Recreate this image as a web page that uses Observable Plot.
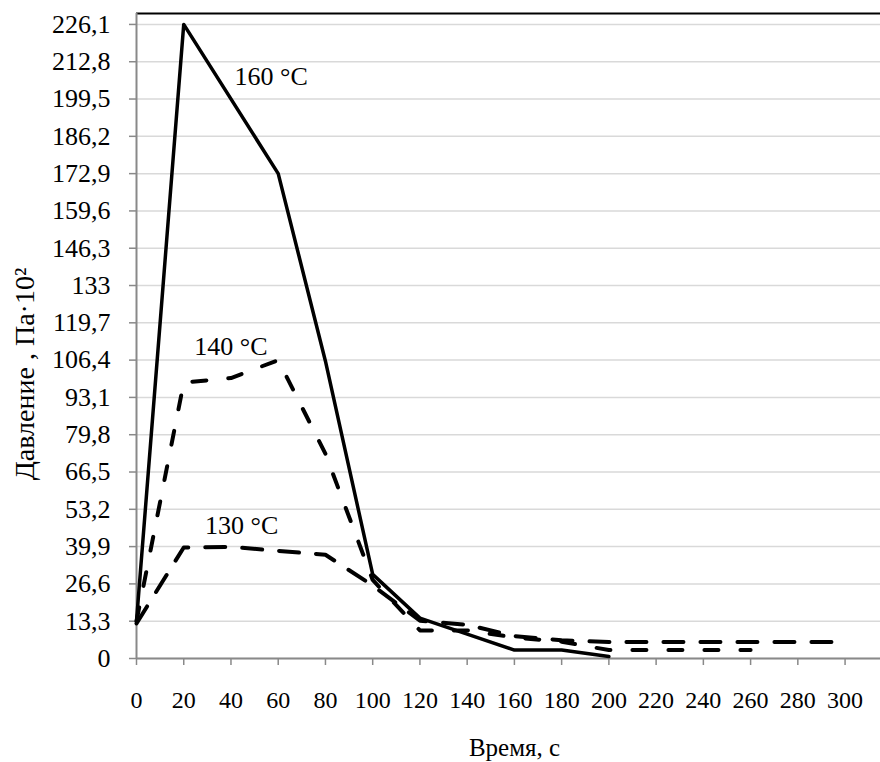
<!DOCTYPE html>
<html><head><meta charset="utf-8">
<script src="https://cdn.jsdelivr.net/npm/d3@7"></script>
<script src="https://cdn.jsdelivr.net/npm/@observablehq/plot@0.6"></script>
<style>body{margin:0;background:#fff}</style>
</head><body><div id="chart"></div>
<script>
const time160 = [0, 20, 60, 80, 100, 120, 140, 160, 180, 200];
const pressure160 = [13.3, 226.1, 172.9, 106, 30, 14.4, 8.7, 3, 3, 0.7];
const time140 = [0, 20, 40, 60, 80, 100, 120, 140, 160, 180, 200, 260];
const pressure140 = [13.3, 98.4, 100, 106.4, 73, 28, 10, 10, 7.5, 6, 3, 3];
const time130 = [0, 20, 40, 60, 80, 100, 120, 140, 160, 180, 200, 300];
const pressure130 = [12.5, 39.6, 39.8, 38.4, 37, 26, 13.5, 12, 8, 6.5, 5.9, 5.9];
const xTicks = [0, 20, 40, 60, 80, 100, 120, 140, 160, 180, 200, 220, 240, 260, 280, 300];
const yTicks = [0, 13.3, 26.6, 39.9, 53.2, 66.5, 79.8, 93.1, 106.4, 119.7, 133, 146.3, 159.6, 172.9, 186.2, 199.5, 212.8, 226.1];
const labelText = ["160 °C", "140 °C", "130 °C"];
const labelTime = [57, 40, 44.5];
const labelPressure = [207.4, 111.1, 47.3];
const xDomain = [0, 315];
const yDomain = [0, 230];
const xTitle = "Время, с";
const yTitle = "Давление , Па·10²";

const rows = (t, p) => t.map((d, i) => ({t: d, p: p[i]}));
const labels = labelText.map((s, i) => ({s, t: labelTime[i], p: labelPressure[i]}));
const fmt = d => String(d).replace(".", ",");
const font = "'Liberation Serif', 'Times New Roman', serif";

const chart = Plot.plot({
  width: 880, height: 762,
  marginLeft: 136, marginRight: 0, marginTop: 13, marginBottom: 104,
  x: {domain: xDomain},
  y: {domain: yDomain},
  style: {fontFamily: font, fontSize: "25px", background: "#fff", color: "#000"},
  marks: [
    Plot.gridY(yTicks, {stroke: "#d9d9d9", strokeOpacity: 1, strokeWidth: 1.5}),
    Plot.ruleY([yDomain[1]], {stroke: "#000", strokeWidth: 2}),
    Plot.ruleY([0], {stroke: "#898989", strokeWidth: 2}),
    Plot.ruleX([0], {stroke: "#898989", strokeWidth: 2}),
    Plot.axisY(yTicks, {tickFormat: () => "", tickSize: 7, stroke: "#898989", strokeWidth: 1.5, label: null}),
    Plot.axisX(xTicks, {tickFormat: () => "", tickSize: 7, stroke: "#898989", strokeWidth: 1.5, label: null}),
    Plot.text(yTicks, {frameAnchor: "left", y: d => d, text: fmt, textAnchor: "end", lineAnchor: "middle", dx: -26, fontSize: 26, fontFamily: font, fill: "#000"}),
    Plot.text(xTicks, {frameAnchor: "bottom", x: d => d, text: d => String(d), textAnchor: "middle", lineAnchor: "middle", dy: 42, fontSize: 24, fontFamily: font, fill: "#000"}),
    Plot.line(rows(time130, pressure130), {x: "t", y: "p", stroke: "#000", strokeWidth: 4, strokeDasharray: "20,17", strokeLinecap: "round", strokeLinejoin: "round"}),
    Plot.line(rows(time140, pressure140), {x: "t", y: "p", stroke: "#000", strokeWidth: 4, strokeDasharray: "14,22", strokeLinecap: "round", strokeLinejoin: "round"}),
    Plot.line(rows(time160, pressure160), {x: "t", y: "p", stroke: "#000", strokeWidth: 3.5, strokeLinejoin: "round"}),
    Plot.text(labels, {x: "t", y: "p", text: "s", fontSize: 26, fontFamily: font, fill: "#000"}),
    Plot.text([xTitle], {frameAnchor: "bottom", textAnchor: "middle", lineAnchor: "middle", dx: 6, dy: 89, fontSize: 25, fontFamily: font, fill: "#000"}),
    Plot.text([yTitle], {frameAnchor: "left", textAnchor: "middle", lineAnchor: "middle", rotate: -90, dx: -111, dy: 38, fontSize: 28, fontFamily: font, fill: "#000"})
  ]
});
document.getElementById("chart").appendChild(chart);
</script>
</body></html>
